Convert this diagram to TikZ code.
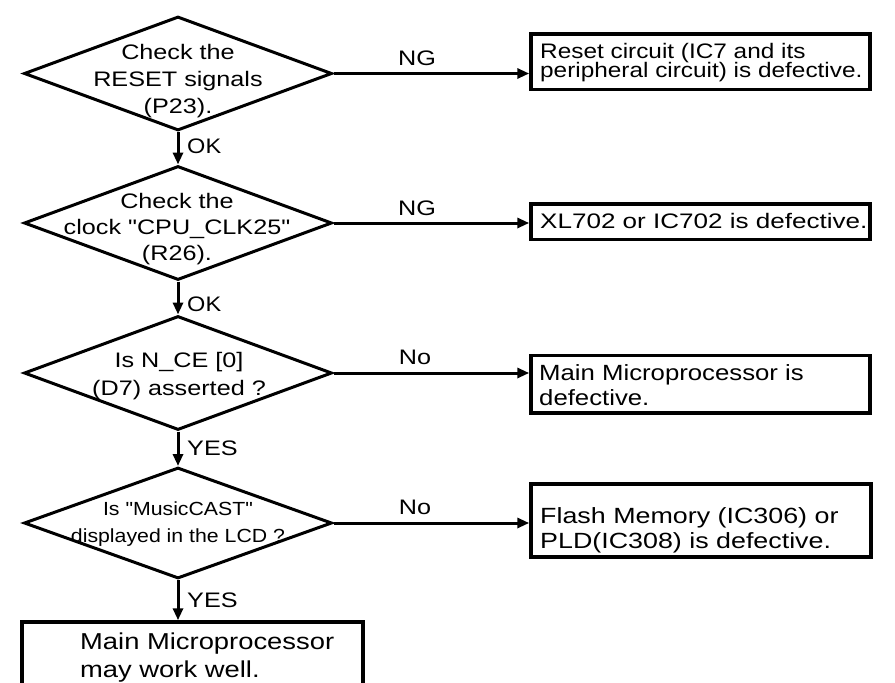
\documentclass[tikz,border=0pt]{standalone}
\usepackage{graphicx}
\usepackage{fontspec}
\setmainfont{Liberation Sans}
\newfontfamily\lsans{Liberation Sans}
\usetikzlibrary{shapes.geometric,arrows.meta}
\newcommand{\ctrlines}[1]{\lineskiplimit=-100pt\vbox{\halign{\hfil##\hfil\cr#1\crcr}}}
\newcommand{\lftlines}[1]{\lineskiplimit=-100pt\vbox{\halign{##\hfil\cr#1\crcr}}}
\newcommand{\fs}[2]{\lsans\fontsize{#1}{#2}\selectfont}
\begin{document}
\begin{tikzpicture}[x=1pt,y=-1pt,
  dia/.style={diamond, draw, line width=3pt, minimum width=308pt, minimum height=114pt, inner sep=0pt},
  box/.style={draw, line width=3.5pt, inner sep=0pt},
  txt/.style={inner sep=0pt},
  lbl/.style={inner sep=0pt, font=\fs{21}{21}},
  arr/.style={line width=3pt, -{Triangle[length=12pt,width=10pt]}}]
\clip (0,0) rectangle (895,683);
% decisions
\node[dia] (d1) at (178,73.5) {};
\node[dia] (d2) at (178,223) {};
\node[dia] (d3) at (178,373) {};
\node[dia, minimum height=111pt] (d4) at (178,523) {};
\node[txt, anchor=base, font=\fs{21}{27}] (d1t) at (178,113) {\scalebox{1.2}[1]{\ctrlines{Check the\cr RESET signals\cr (P23).}}};
\node[txt, anchor=base, font=\fs{21}{26}] (d2t) at (177,260) {\scalebox{1.2}[1]{\ctrlines{Check the\cr clock "CPU\_CLK25"\cr (R26).}}};
\node[txt, anchor=base, font=\fs{21}{28}] (d3t) at (179,395) {\scalebox{1.2}[1]{\ctrlines{Is N\_CE [0]\cr (D7) asserted ?}}};
\node[txt, anchor=base, font=\fs{19}{27}] (d4t) at (178,542) {\scalebox{1.12}[1]{\ctrlines{Is "MusicCAST"\cr displayed in the LCD ?}}};
% result boxes
\node[box, minimum width=339pt, minimum height=55.5pt] (b1) at (700.5,61.75) {};
\node[box, minimum width=339pt, minimum height=35.5pt] (b2) at (700.5,221.75) {};
\node[box, minimum width=339pt, minimum height=57.5pt] (b3) at (700.5,384.25) {};
\node[box, minimum width=340pt, minimum height=73pt] (b4) at (701,520.5) {};
\node[box, minimum width=341pt, minimum height=78pt] (b5) at (192.5,661) {};
\node[txt, anchor=base west, font=\fs{21}{19}] (b1t) at (540,77) {\scalebox{1.16}[1]{\lftlines{Reset circuit (IC7 and its\cr peripheral circuit) is defective.}}};
\node[txt, anchor=base west, font=\fs{21}{21}] (b2t) at (540,228) {\scalebox{1.24}[1]{XL702 or IC702 is defective.}};
\node[txt, anchor=base west, font=\fs{22}{25}] (b3t) at (539,405) {\scalebox{1.17}[1]{\lftlines{Main Microprocessor is\cr defective.}}};
\node[txt, anchor=base west, font=\fs{22}{25}] (b4t) at (540,548) {\scalebox{1.22}[1]{\lftlines{Flash Memory (IC306) or\cr PLD(IC308) is defective.}}};
\node[txt, anchor=base west, font=\fs{23}{28}] (b5t) at (80,677) {\scalebox{1.19}[1]{\lftlines{Main Microprocessor\cr may work well.}}};
% connectors
\draw[arr] (d1.south) -- (d2.north);
\draw[arr] (d2.south) -- (d3.north);
\draw[arr] (d3.south) -- (d4.north);
\draw[arr] (d4.south) -- (d4.south |- b5.north);
\draw[arr] (d1.east) -- (d1.east -| b1.west);
\draw[arr] (d2.east) -- (d2.east -| b2.west);
\draw[arr] (d3.east) -- (d3.east -| b3.west);
\draw[arr] (d4.east) -- (d4.east -| b4.west);
% labels
\node[lbl, anchor=base] (l1) at (417,65) {\scalebox{1.2}[1]{NG}};
\node[lbl, anchor=base] (l2) at (417,215) {\scalebox{1.2}[1]{NG}};
\node[lbl, anchor=base] (l3) at (415,364) {\scalebox{1.2}[1]{No}};
\node[lbl, anchor=base] (l4) at (415,514) {\scalebox{1.2}[1]{No}};
\node[lbl, anchor=base west] (k1) at (187,153) {\scalebox{1.12}[1]{OK}};
\node[lbl, anchor=base west] (k2) at (187,311) {\scalebox{1.12}[1]{OK}};
\node[lbl, anchor=base west] (y1) at (187,455) {\scalebox{1.2}[1]{YES}};
\node[lbl, anchor=base west] (y2) at (187,607) {\scalebox{1.2}[1]{YES}};
\end{tikzpicture}
\end{document}
